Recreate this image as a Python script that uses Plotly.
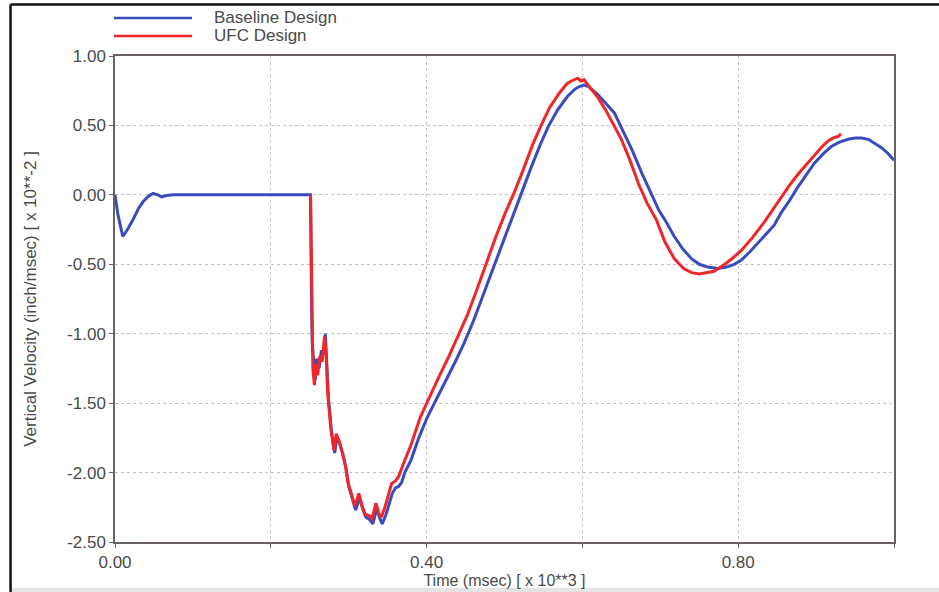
import plotly.graph_objects as go

# Vertical velocity histories, time in msec x 10**3, velocity in inch/msec x 10**-2
baseline_t = [
    0.000, 0.004, 0.010, 0.016, 0.023, 0.030, 0.036, 0.043, 0.049, 0.055,
    0.060, 0.066, 0.075, 0.100, 0.150, 0.200, 0.251, 0.252, 0.253, 0.255,
    0.257, 0.259, 0.262, 0.265, 0.268, 0.270, 0.272, 0.274, 0.278, 0.282,
    0.285, 0.289, 0.293, 0.297, 0.300, 0.305, 0.309, 0.314, 0.318, 0.322,
    0.327, 0.331, 0.336, 0.340, 0.343, 0.348, 0.352, 0.356, 0.360, 0.364,
    0.368, 0.372, 0.380, 0.390, 0.401, 0.412, 0.425, 0.437, 0.448, 0.460,
    0.472, 0.486, 0.498, 0.510, 0.521, 0.533, 0.545, 0.556, 0.568, 0.581,
    0.590, 0.596, 0.602, 0.608, 0.614, 0.620, 0.630, 0.641, 0.652, 0.664,
    0.676, 0.688, 0.698, 0.707, 0.718, 0.729, 0.740, 0.750, 0.761, 0.774,
    0.785, 0.795, 0.804, 0.815, 0.825, 0.835, 0.846, 0.855, 0.866, 0.877,
    0.888, 0.898, 0.910, 0.920, 0.930, 0.941, 0.950, 0.958, 0.967, 0.975,
    0.984, 0.992, 1.000,
]
baseline_v = [
    0.00, -0.15, -0.30, -0.25, -0.18, -0.10, -0.05, -0.01, 0.01, 0.00,
    -0.015, -0.005, 0.00, 0.00, 0.005, 0.002, 0.00, -0.60, -1.05, -1.20,
    -1.33, -1.18, -1.25, -1.12, -1.15, -1.00, -1.20, -1.46, -1.71, -1.86,
    -1.74, -1.80, -1.88, -1.98, -2.10, -2.20, -2.27, -2.18, -2.26, -2.32,
    -2.34, -2.37, -2.26, -2.33, -2.37, -2.30, -2.22, -2.15, -2.11, -2.10,
    -2.07, -2.00, -1.91, -1.75, -1.60, -1.48, -1.33, -1.20, -1.07, -0.91,
    -0.73, -0.52, -0.34, -0.16, 0.01, 0.18, 0.35, 0.49, 0.61, 0.71,
    0.76, 0.78, 0.79, 0.78, 0.75, 0.72, 0.66, 0.59, 0.46, 0.32,
    0.16, 0.01, -0.11, -0.19, -0.30, -0.39, -0.46, -0.50, -0.52, -0.53,
    -0.52, -0.50, -0.47, -0.41, -0.35, -0.29, -0.22, -0.13, -0.04, 0.06,
    0.15, 0.23, 0.30, 0.35, 0.38, 0.40, 0.41, 0.41, 0.40, 0.37,
    0.34, 0.30, 0.25,
]

ufc_t = [
    0.251, 0.252, 0.253, 0.254, 0.256, 0.258, 0.260, 0.263, 0.266, 0.269,
    0.271, 0.273, 0.277, 0.281, 0.284, 0.288, 0.292, 0.296, 0.299, 0.304,
    0.308, 0.313, 0.317, 0.321, 0.326, 0.330, 0.335, 0.339, 0.342, 0.347,
    0.351, 0.355, 0.360, 0.364, 0.370, 0.380, 0.392, 0.403, 0.415, 0.428,
    0.440, 0.452, 0.464, 0.477, 0.489, 0.501, 0.512, 0.524, 0.536, 0.547,
    0.558, 0.570, 0.580, 0.586, 0.590, 0.594, 0.598, 0.602, 0.606, 0.612,
    0.620, 0.630, 0.640, 0.650, 0.661, 0.672, 0.683, 0.695, 0.706, 0.718,
    0.730, 0.740, 0.750, 0.760, 0.769, 0.780, 0.792, 0.804, 0.818, 0.833,
    0.845, 0.855, 0.866, 0.877, 0.888, 0.898, 0.908, 0.916, 0.922, 0.928,
    0.932,
]
ufc_v = [
    0.00, -0.55, -1.02, -1.25, -1.37, -1.22, -1.30, -1.16, -1.20, -1.02,
    -1.15, -1.43, -1.68, -1.84, -1.72, -1.78, -1.86, -1.96, -2.07, -2.17,
    -2.24, -2.15, -2.24, -2.30, -2.31, -2.33, -2.22, -2.30, -2.32, -2.24,
    -2.15, -2.08, -2.06, -2.03, -1.94, -1.80, -1.60, -1.46, -1.32, -1.17,
    -1.02, -0.87, -0.69, -0.48, -0.30, -0.13, 0.01, 0.18, 0.36, 0.50,
    0.63, 0.73, 0.80, 0.82, 0.83, 0.84, 0.82, 0.83, 0.80, 0.76,
    0.70, 0.61, 0.51, 0.40, 0.25, 0.08, -0.06, -0.18, -0.34, -0.46,
    -0.53, -0.56, -0.57, -0.56, -0.55, -0.51, -0.46, -0.40, -0.31, -0.20,
    -0.10, -0.02, 0.07, 0.15, 0.22, 0.29, 0.35, 0.39, 0.41, 0.42,
    0.44,
]

x_ticks = [0.0, 0.2, 0.4, 0.6, 0.8, 1.0]
x_tick_text = ["0.00", "", "0.40", "", "0.80", ""]
y_ticks = [1.0, 0.5, 0.0, -0.5, -1.0, -1.5, -2.0, -2.5]
y_tick_text = ["1.00", "0.50", "0.00", "-0.50", "-1.00", "-1.50", "-2.00", "-2.50"]

series_names = ["Baseline Design", "UFC Design"]
series_colors = ["#3a4bbd", "#f0262b"]

TEXT = "#4a4a4a"
AXIS = "#6a6262"
FONT = "Liberation Sans, Arial, Helvetica, sans-serif"

fig = go.Figure()
for t, v, name, color in zip(
    [baseline_t, ufc_t], [baseline_v, ufc_v], series_names, series_colors
):
    fig.add_trace(go.Scatter(
        x=t, y=v, mode="lines", name=name,
        line=dict(color=color, width=3),
        showlegend=False,
    ))

axis_common = dict(
    showline=True, linecolor=AXIS, linewidth=1.5, mirror=True,
    ticks="outside", ticklen=4, tickcolor=AXIS, tickwidth=1,
    showgrid=True, gridcolor="#c4c0c0", griddash="dot", gridwidth=1,
    zeroline=False, automargin=False,
    tickfont=dict(family=FONT, size=17, color=TEXT),
)

fig.update_layout(
    width=939, height=592,
    margin=dict(l=115, r=45, t=56, b=50),
    paper_bgcolor="white", plot_bgcolor="white",
    font=dict(family=FONT, color=TEXT),
    xaxis=dict(
        range=[0, 1.0], tickvals=x_ticks, ticktext=x_tick_text,
        ticklabelstandoff=0,
        title=dict(text="Time (msec) [ x 10**3 ]", font=dict(size=16, color=TEXT), standoff=4),
        **axis_common,
    ),
    yaxis=dict(
        range=[-2.5, 1.0], tickvals=y_ticks, ticktext=y_tick_text,
        title=dict(text="Vertical Velocity (inch/msec) [ x 10**-2 ]",
                   font=dict(size=17, color=TEXT), standoff=26),
        **axis_common,
    ),
)

# Hand-drawn legend above the plot area
legend_rows = [1.0782, 1.0412]
for name, color, yy in zip(series_names, series_colors, legend_rows):
    fig.add_shape(type="line", xref="paper", yref="paper",
                  x0=-0.0013, x1=0.0988, y0=yy, y1=yy,
                  line=dict(color=color, width=2.5))
    fig.add_annotation(xref="paper", yref="paper", x=0.1245, y=yy,
                       xanchor="left", yanchor="middle", showarrow=False,
                       text=name, font=dict(family=FONT, size=17, color=TEXT))

# Page frame: black rules on top and left, light band along the bottom
fig.add_shape(type="line", xref="paper", yref="paper",
              x0=-0.1341, x1=1.06, y0=1.106, y1=1.106,
              line=dict(color="#111111", width=2.5))
fig.add_shape(type="line", xref="paper", yref="paper",
              x0=-0.1341, x1=-0.1341, y0=1.106, y1=-0.104,
              line=dict(color="#111111", width=2.5))
fig.add_shape(type="rect", xref="paper", yref="paper",
              x0=-0.1341, x1=1.06, y0=-0.094, y1=-0.104,
              line=dict(width=0), fillcolor="#e4e4e4", layer="below")

fig.write_html("out.html")
